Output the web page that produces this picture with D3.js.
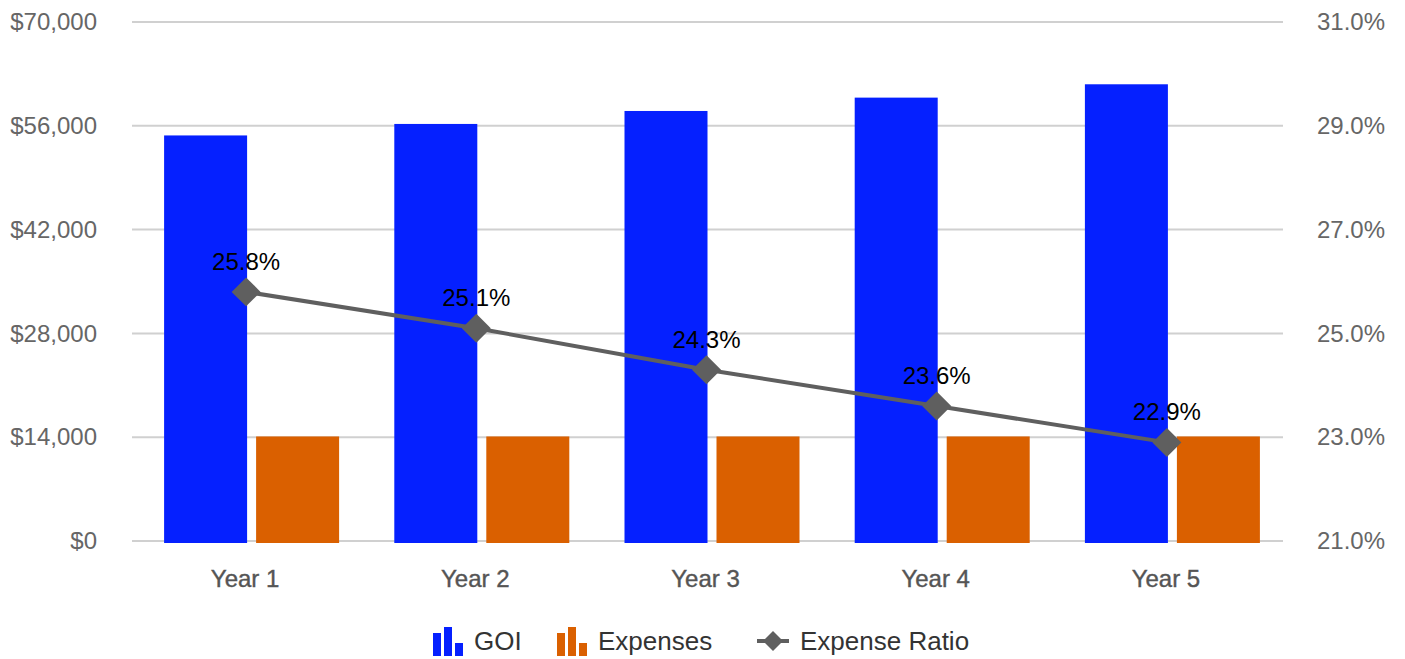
<!DOCTYPE html>
<html>
<head>
<meta charset="utf-8">
<script src="https://cdn.jsdelivr.net/npm/d3@7"></script>
<style>
  body { margin: 0; background: #fff; }
  svg { font-family: "Liberation Sans", Arial, Helvetica, sans-serif; }
</style>
</head>
<body>
<div id="chart"></div>
<script>
const years = ["Year 1", "Year 2", "Year 3", "Year 4", "Year 5"];
const goi = [54700, 56250, 58000, 59800, 61600];
const expenses = [14100, 14100, 14100, 14100, 14100];
const expenseRatio = [25.8, 25.1, 24.3, 23.6, 22.9];
const leftTicks = [0, 14000, 28000, 42000, 56000, 70000];
const rightTicks = [21, 23, 25, 27, 29, 31];

const width = 1405, height = 659;
const plotLeft = 131, plotRight = 1282, plotTop = 22, plotBottom = 541;
const goiColor = "#0520ff", expColor = "#da6000", lineColor = "#5f5f5f";

const svg = d3.select("#chart").append("svg")
    .attr("width", width)
    .attr("height", height);

const xScale = d3.scaleBand().domain(years).range([plotLeft, plotRight]);
const yLeft = d3.scaleLinear().domain([0, 70000]).range([plotBottom, plotTop]);
const yRight = d3.scaleLinear().domain([21, 31]).range([plotBottom, plotTop]);

// bars sit a little right of band centre, as in the original
const barWidth = 83, barGap = 9, barOffset = -82;

// gridlines
svg.append("g")
    .selectAll("line")
    .data(leftTicks)
    .join("line")
    .attr("x1", plotLeft + 1)
    .attr("x2", plotRight + 1)
    .attr("y1", d => yLeft(d))
    .attr("y2", d => yLeft(d))
    .attr("stroke", "#d0d0d0")
    .attr("stroke-width", 2);

// left axis
const leftAxis = d3.axisLeft(yLeft)
    .tickValues(leftTicks)
    .tickSize(0)
    .tickPadding(0)
    .tickFormat(d => "$" + d3.format(",")(d));
svg.append("g")
    .attr("class", "yAxis")
    .attr("transform", "translate(97, 0)")
    .call(leftAxis)
    .call(g => g.select(".domain").remove())
    .selectAll("text")
    .attr("font-size", 24)
    .attr("font-family", "Liberation Sans, Arial, sans-serif")
    .attr("fill", "#666");

// right axis
const rightAxis = d3.axisLeft(yRight)
    .tickValues(rightTicks)
    .tickSize(0)
    .tickPadding(0)
    .tickFormat(d => d.toFixed(1) + "%");
svg.append("g")
    .attr("class", "yAxisRight")
    .attr("transform", "translate(1385, 0)")
    .call(rightAxis)
    .call(g => g.select(".domain").remove())
    .selectAll("text")
    .attr("font-size", 24)
    .attr("font-family", "Liberation Sans, Arial, sans-serif")
    .attr("fill", "#666");

// x axis labels
const xAxis = d3.axisBottom(xScale).tickSize(0).tickPadding(0);
svg.append("g")
    .attr("class", "xAxis")
    .attr("transform", "translate(-1, 568)")
    .call(xAxis)
    .call(g => g.select(".domain").remove())
    .selectAll("text")
    .attr("dy", "0.78em")
    .attr("font-size", 24)
    .attr("font-family", "Liberation Sans, Arial, sans-serif")
    .attr("fill", "#555")
    .attr("stroke", "#555")
    .attr("stroke-width", 0.4);

const center = d => xScale(d) + xScale.bandwidth() / 2;

// bars
svg.append("g")
    .selectAll("rect")
    .data(years)
    .join("rect")
    .attr("x", d => center(d) + barOffset)
    .attr("y", (d, i) => yLeft(goi[i]))
    .attr("width", barWidth)
    .attr("height", (d, i) => yLeft(0) - yLeft(goi[i]) + 2)
    .attr("fill", goiColor);

svg.append("g")
    .selectAll("rect")
    .data(years)
    .join("rect")
    .attr("x", d => center(d) + barOffset + barWidth + barGap)
    .attr("y", (d, i) => yLeft(expenses[i]))
    .attr("width", barWidth)
    .attr("height", (d, i) => yLeft(0) - yLeft(expenses[i]) + 2)
    .attr("fill", expColor);

// expense ratio line
const lineData = years.map((y, i) => ({year: y, value: expenseRatio[i]}));
const line = d3.line()
    .x(d => center(d.year))
    .y(d => yRight(d.value));
svg.append("path")
    .datum(lineData)
    .attr("d", line)
    .attr("fill", "none")
    .attr("stroke", lineColor)
    .attr("stroke-width", 4);

const diamond = d3.symbol().type(d3.symbolSquare).size(420);
svg.append("g")
    .selectAll("path")
    .data(lineData)
    .join("path")
    .attr("d", diamond)
    .attr("transform", d => `translate(${center(d.year)},${yRight(d.value)}) rotate(45)`)
    .attr("fill", lineColor);

svg.append("g")
    .selectAll("text")
    .data(lineData)
    .join("text")
    .attr("x", d => center(d.year))
    .attr("y", d => yRight(d.value) - 22)
    .attr("text-anchor", "middle")
    .attr("font-size", 24)
    .attr("fill", "#000")
    .text(d => d.value.toFixed(1) + "%");

// legend
const legend = svg.append("g").attr("class", "legend");
const barIcon = (x, color) => {
    const g = legend.append("g").attr("transform", `translate(${x}, 656)`);
    [23, 29, 13].forEach((h, k) => {
        g.append("rect")
            .attr("x", k * 11)
            .attr("y", -h)
            .attr("width", 8)
            .attr("height", h)
            .attr("fill", color);
    });
};
barIcon(433, goiColor);
legend.append("text").attr("x", 474).attr("y", 650).attr("font-size", 26).attr("fill", "#333").text("GOI");
barIcon(557, expColor);
legend.append("text").attr("x", 598).attr("y", 650).attr("font-size", 26).attr("fill", "#333").text("Expenses");
legend.append("line")
    .attr("x1", 757).attr("x2", 789)
    .attr("y1", 641).attr("y2", 641)
    .attr("stroke", lineColor).attr("stroke-width", 4);
legend.append("path")
    .attr("d", d3.symbol().type(d3.symbolSquare).size(200))
    .attr("transform", "translate(773, 641) rotate(45)")
    .attr("fill", lineColor);
legend.append("text").attr("x", 800).attr("y", 650).attr("font-size", 26).attr("fill", "#333").text("Expense Ratio");
</script>
</body>
</html>
